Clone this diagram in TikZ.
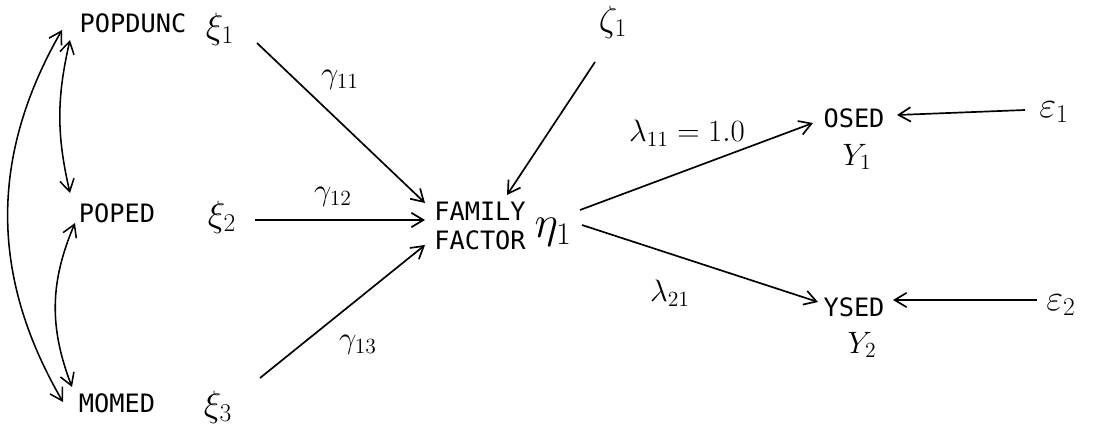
\RequirePackage{fix-cm}
\documentclass[tikz,border=0pt]{standalone}
\usepackage{fontspec}
\usepackage{tikz}
\usetikzlibrary{arrows.meta,calc}
\newfontfamily\typefont{DejaVu Sans Mono}
\tikzset{
  varname/.style ={font=\typefont\fontsize{18}{20}\selectfont, inner sep=2pt, align=left},
  greek/.style   ={font=\fontsize{26}{28}\selectfont, inner sep=1pt},
  coef/.style    ={font=\fontsize{22}{24}\selectfont, inner sep=1pt},
  patharr/.style ={-{Straight Barb[length=3mm,width=3.6mm]}, line width=1.2pt},
  corrarr/.style ={{Straight Barb[length=3mm,width=3.6mm]}-{Straight Barb[length=3mm,width=3.6mm]}, line width=1.1pt},
}
\begin{document}
\begin{tikzpicture}[x=0.025cm,y=0.025cm]
    \useasboundingbox (0,0) rectangle (1096,430);

    % exogenous side
    \node[varname] (popdunc) at (133,407) {POPDUNC};
    \node[varname] (poped)   at (117,217) {POPED};
    \node[varname] (momed)   at (117,27)  {MOMED};
    \node[greek]   (xi1)     at (220,401) {$\xi_1$};
    \node[greek]   (xi2)     at (222,213) {$\xi_2$};
    \node[greek]   (xi3)     at (218,23)  {$\xi_3$};

    % latent factor
    \node[varname] (fam)     at (480,204) {FAMILY\\FACTOR};
    \node[greek,font=\fontsize{32}{34}\selectfont] (eta1) at (553,198) {$\eta_1$};
    \node[greek]   (zeta1)   at (613,408) {$\zeta_1$};

    % indicators
    \node[varname] (osed)    at (854,312) {OSED};
    \node[greek,font=\fontsize{22}{24}\selectfont] (y1) at (857,273) {$Y_1$};
    \node[varname] (ysed)    at (854,123) {YSED};
    \node[greek,font=\fontsize{22}{24}\selectfont] (y2) at (862,85) {$Y_2$};
    \node[greek]   (eps1)    at (1054,318) {$\varepsilon_1$};
    \node[greek]   (eps2)    at (1061,125) {$\varepsilon_2$};

    % coefficients
    \node[coef] (g11) at (340,350) {$\gamma_{11}$};
    \node[coef] (g12) at (333,233) {$\gamma_{12}$};
    \node[coef] (g13) at (358,85)  {$\gamma_{13}$};
    \node[coef] (l11) at (687,297) {$\lambda_{11}=1.0$};
    \node[coef] (l21) at (670,137) {$\lambda_{21}$};

    \draw[patharr] ($(xi1)+(37,-14)$) -- ($(fam)+(-55,23)$);
    \draw[patharr] ($(xi2)+(33,-3)$)  -- ($(fam)+(-55,6)$);
    \draw[patharr] ($(xi3)+(42,29)$)  -- ($(fam)+(-55,-19)$);
    \draw[patharr] ($(zeta1)+(-18,-40)$) -- ($(fam)+(27,31)$);

    \draw[patharr] ($(eta1)+(27,22)$) -- ($(osed)+(-41,-5)$);
    \draw[patharr] ($(eta1)+(29,7)$)  -- ($(ysed)+(-36,5)$);
    \draw[patharr] ($(eps1)+(-29,2)$) -- ($(osed)+(43,3)$);
    \draw[patharr] ($(eps2)+(-24,5)$) -- ($(ysed)+(39,7)$);

    % correlations
    \draw[corrarr] ($(popdunc)+(-63,-17)$) to[bend right=13] ($(poped)+(-47,20)$);
    \draw[corrarr] ($(poped)+(-42,-10)$)   to[bend right=22] ($(momed)+(-45,16)$);
    \draw[corrarr] ($(popdunc)+(-71,-7)$)  to[bend right=30] ($(momed)+(-54,1)$);
\end{tikzpicture}
\end{document}
